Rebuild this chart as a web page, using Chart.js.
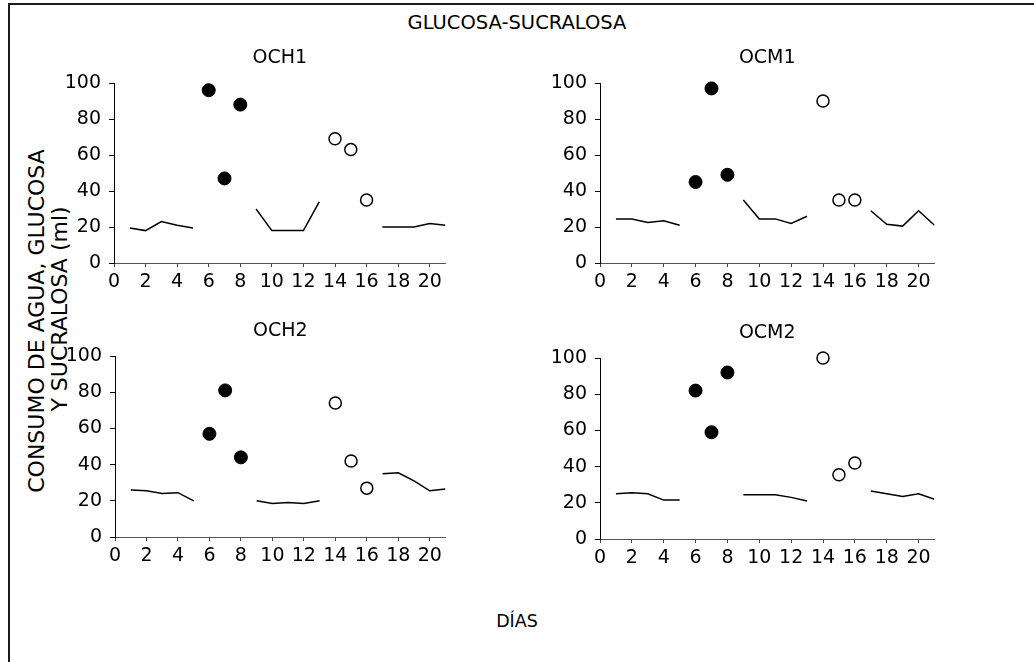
<!DOCTYPE html>
<html>
<head>
<meta charset="utf-8">
<script src="https://cdn.jsdelivr.net/npm/chart.js@4.4.1/dist/chart.umd.min.js"></script>
<style>
  html, body { margin: 0; padding: 0; background: #fff; }
  body { width: 1034px; height: 662px; position: relative; overflow: hidden;
         font-family: 'DejaVu Sans', sans-serif; color: #000; }
  #frame { position: absolute; left: 8px; top: 3px; width: 1100px; height: 700px;
           border-left: 2px solid #1a1a1a; border-top: 2px solid #1a1a1a; }
  .panel { position: absolute; }
  .txt { position: absolute; white-space: nowrap; color: #000; }
  #mainTitle { left: 0; width: 1034px; top: 11px; text-align: center; font-size: 19.5px; line-height: 24px; }
  #xTitle { left: 0; width: 1034px; top: 609px; text-align: center; font-size: 17.5px; line-height: 24px; }
  .ytitle { font-size: 22px; line-height: 24px; transform: translate(-50%, -50%) rotate(-90deg); }
</style>
</head>
<body>
<div id="frame"></div>
<div class="txt" id="mainTitle">GLUCOSA-SUCRALOSA</div>
<div class="txt ytitle" style="left:37px; top:321px;">CONSUMO DE AGUA, GLUCOSA</div>
<div class="txt ytitle" style="left:60px; top:309px;">Y SUCRALOSA (ml)</div>
<div class="txt" id="xTitle">DÍAS</div>

<canvas id="och1" class="panel"></canvas>
<canvas id="ocm1" class="panel"></canvas>
<canvas id="och2" class="panel"></canvas>
<canvas id="ocm2" class="panel"></canvas>

<script>
// Days of the experiment (x axis)
const days = [1, 2, 3, 4, 5, 6, 7, 8, 9, 10, 11, 12, 13, 14, 15, 16, 17, 18, 19, 20, 21];
const glucoseDays = [6, 7, 8];
const sucraloseDays = [14, 15, 16];
const xTicks = [0, 2, 4, 6, 8, 10, 12, 14, 16, 18, 20];
const yTicks = [0, 20, 40, 60, 80, 100];
const panelTitles = ['OCH1', 'OCM1', 'OCH2', 'OCM2'];

// Water intake (ml); null where glucose / sucralose was offered instead
const och1Water = [19.5, 18, 23, 21, 19.5, null, null, null, 30, 18, 18, 18, 34, null, null, null, 20, 20, 20, 22, 21];
const och1Glucose = [96, 47, 88];
const och1Sucralose = [69, 63, 35];

const ocm1Water = [24.5, 24.5, 22.5, 23.5, 21, null, null, null, 35, 24.5, 24.5, 22, 26, null, null, null, 29, 21.5, 20.5, 29, 21];
const ocm1Glucose = [45, 97, 49];
const ocm1Sucralose = [90, 35, 35];

const och2Water = [26, 25.5, 24, 24.5, 20, null, null, null, 20, 18.5, 19, 18.5, 20, null, null, null, 35, 35.5, 31, 25.5, 26.5];
const och2Glucose = [57, 81, 44];
const och2Sucralose = [74, 42, 27];

const ocm2Water = [25, 25.5, 25, 21.5, 21.5, null, null, null, 24.5, 24.5, 24.5, 23, 21, null, null, null, 26.5, 25, 23.5, 25, 22];
const ocm2Glucose = [82, 59, 92];
const ocm2Sucralose = [100, 35.5, 42];

// Placement of each small chart on the page: plot-area edges in page pixels
const Y_AXIS_W = 74, X_AXIS_H = 36, TITLE_H = 43, RIGHT_PAD = 6;
const panelBoxes = [
  { id: 'och1', left: 114, right: 447, top: 83, bottom: 263 },
  { id: 'ocm1', left: 600, right: 936, top: 83, bottom: 263 },
  { id: 'och2', left: 115, right: 447, top: 356, bottom: 537 },
  { id: 'ocm2', left: 600, right: 936, top: 358, bottom: 539 }
];
const panelSeries = [
  [och1Water, och1Glucose, och1Sucralose],
  [ocm1Water, ocm1Glucose, ocm1Sucralose],
  [och2Water, och2Glucose, och2Sucralose],
  [ocm2Water, ocm2Glucose, ocm2Sucralose]
];

const FONT = "'DejaVu Sans', sans-serif";
const TITLE_SIZE = 19;
const TITLE_PAD_TOP = 18 - TITLE_SIZE * 1.2 / 2;

function pairs(xs, ys) { return xs.map((x, i) => ({ x: x, y: ys[i] })); }

function makePanel(box, title, series) {
  const canvas = document.getElementById(box.id);
  const cLeft = box.left - Y_AXIS_W;
  const cTop = box.top - TITLE_H;
  const w = box.right - cLeft + RIGHT_PAD;
  const h = box.bottom - cTop + X_AXIS_H;
  canvas.width = w; canvas.height = h;
  canvas.style.left = cLeft + 'px'; canvas.style.top = cTop + 'px';
  canvas.style.width = w + 'px'; canvas.style.height = h + 'px';

  const [water, glucose, sucralose] = series;
  new Chart(canvas, {
    type: 'line',
    data: {
      datasets: [
        {
          label: 'Agua',
          data: pairs(days, water),
          borderColor: '#000', borderWidth: 1.5,
          pointRadius: 0, spanGaps: false, tension: 0, fill: false
        },
        {
          label: 'Glucosa',
          data: pairs(glucoseDays, glucose),
          showLine: false, clip: false,
          pointRadius: 6.5, pointBackgroundColor: '#000', pointBorderColor: '#000', pointBorderWidth: 1
        },
        {
          label: 'Sucralosa',
          data: pairs(sucraloseDays, sucralose),
          showLine: false, clip: false,
          pointRadius: 6, pointBackgroundColor: '#fff', pointBorderColor: '#000', pointBorderWidth: 1.5
        }
      ]
    },
    options: {
      responsive: false,
      maintainAspectRatio: false,
      animation: false,
      devicePixelRatio: 1,
      layout: { padding: { left: 0, right: RIGHT_PAD, top: 0, bottom: 0 } },
      plugins: {
        legend: { display: false },
        tooltip: { enabled: false },
        title: {
          display: true, text: title, color: '#000', fullSize: false,
          font: { family: FONT, size: TITLE_SIZE, weight: 'normal', lineHeight: 1.2 },
          padding: { top: TITLE_PAD_TOP, bottom: TITLE_H - TITLE_PAD_TOP - TITLE_SIZE * 1.2 }
        }
      },
      scales: {
        x: {
          type: 'linear', position: 'bottom', min: 0, max: 21,
          afterBuildTicks: s => { s.ticks = xTicks.map(v => ({ value: v })); },
          afterFit: s => { s.height = X_AXIS_H; },
          ticks: { color: '#000', font: { family: FONT, size: 19 }, padding: 4, maxRotation: 0, autoSkip: false },
          grid: { drawOnChartArea: false, drawTicks: true, tickLength: 4, color: '#444' },
          border: { display: true, color: '#555', width: 1 }
        },
        y: {
          type: 'linear', position: 'left', min: 0, max: 100,
          afterBuildTicks: s => { s.ticks = yTicks.map(v => ({ value: v })); },
          afterFit: s => { s.width = Y_AXIS_W; },
          ticks: { color: '#000', font: { family: FONT, size: 19 }, padding: 8 },
          grid: { drawOnChartArea: false, drawTicks: true, tickLength: 5, color: '#000' },
          border: { display: true, color: '#000', width: 1 }
        }
      }
    }
  });
}

panelBoxes.forEach((box, i) => makePanel(box, panelTitles[i], panelSeries[i]));
</script>
</body>
</html>
